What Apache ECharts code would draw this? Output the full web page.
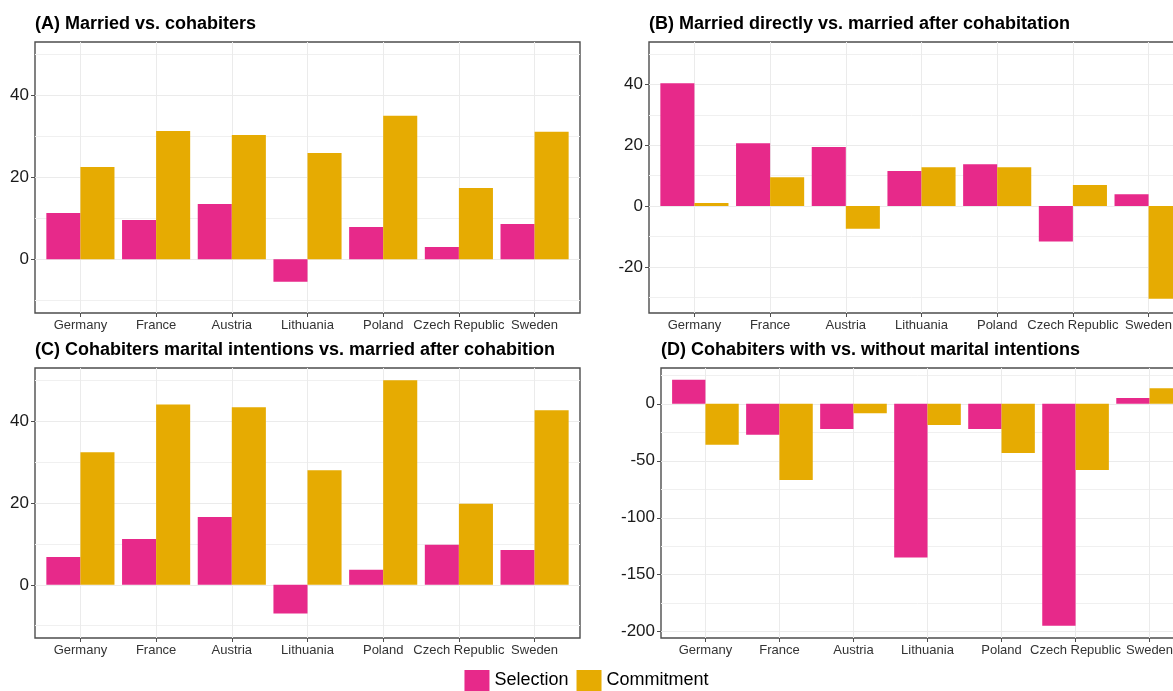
<!DOCTYPE html>
<html><head><meta charset="utf-8">
<script src="https://cdn.jsdelivr.net/npm/echarts@6/dist/echarts.min.js"></script>
<style>html,body{margin:0;padding:0;background:#fff}#c{width:1173px;height:691px}</style>
</head><body><div id="c"></div>
<script>
// ---- data ----
const countries = ['Germany', 'France', 'Austria', 'Lithuania', 'Poland', 'Czech Republic', 'Sweden'];
const seriesNames = ['Selection', 'Commitment'];
const panelTitles = [
  '(A) Married vs. cohabiters',
  '(B) Married directly vs. married after cohabitation',
  '(C) Cohabiters marital intentions vs. married after cohabition',
  '(D) Cohabiters with vs. without marital intentions'
];
const selectionA = [11.3, 9.6, 13.5, -5.5, 7.9, 3.0, 8.6];
const commitmentA = [22.5, 31.3, 30.3, 25.9, 35.0, 17.4, 31.1];
const selectionB = [40.4, 20.7, 19.4, 11.5, 13.8, -11.7, 3.9];
const commitmentB = [1.0, 9.5, -7.5, 12.8, 12.8, 6.9, -30.5];
const selectionC = [6.8, 11.2, 16.6, -7.0, 3.7, 9.8, 8.5];
const commitmentC = [32.4, 44.1, 43.4, 28.0, 50.0, 19.8, 42.7];
const selectionD = [21.0, -27.2, -22.2, -134.9, -22.2, -194.7, 5.0];
const commitmentD = [-35.9, -66.9, -8.2, -18.7, -43.2, -58.1, 13.7];
const yTicksA = [0, 20, 40];
const yMinorA = [-10, 10, 30, 50];
const yTicksB = [-20, 0, 20, 40];
const yMinorB = [-30, -10, 10, 30, 50];
const yTicksC = [0, 20, 40];
const yMinorC = [-10, 10, 30, 50];
const yTicksD = [-200, -150, -100, -50, 0];
const yMinorD = [-175, -125, -75, -25, 25];

// ---- layout / style ----
const FONT = 'Liberation Sans, Arial, sans-serif';
const colors = ['#E7298A', '#E6AB02'];
const panels = [
  {sel: selectionA, com: commitmentA, ticks: yTicksA, minor: yMinorA, min: -13.1, max: 53.0, left: 35, top: 42, width: 545, height: 271, tTop: 15},
  {sel: selectionB, com: commitmentB, ticks: yTicksB, minor: yMinorB, min: -35.2, max: 54.0, left: 649, top: 42, width: 545, height: 271, tTop: 15},
  {sel: selectionC, com: commitmentC, ticks: yTicksC, minor: yMinorC, min: -13.0, max: 53.0, left: 35, top: 368, width: 545, height: 270, tTop: 341},
  {sel: selectionD, com: commitmentD, ticks: yTicksD, minor: yMinorD, min: -205.5, max: 31.4, left: 661, top: 368, width: 533, height: 270, tTop: 341}
];
const catIdx = countries.map((c, i) => i);

const option = {
  backgroundColor: '#fff',
  animation: false,
  textStyle: {fontFamily: FONT},
  title: [], grid: [], xAxis: [], yAxis: [], series: [],
  legend: {
    data: seriesNames, left: 'center', top: 670, padding: 0,
    itemWidth: 25, itemHeight: 21, itemGap: 8, icon: 'rect',
    textStyle: {fontSize: 18, color: '#000', fontFamily: FONT}
  }
};

panels.forEach((p, k) => {
  option.title.push({
    text: panelTitles[k], left: p.left, top: p.tTop, padding: 0,
    textStyle: {fontSize: 18, fontWeight: 'bold', color: '#000', fontFamily: FONT}
  });
  option.grid.push({
    left: p.left, top: p.top, width: p.width, height: p.height,
    outerBoundsMode: 'none', containLabel: false,
    show: true, borderColor: '#4d4d4d', borderWidth: 1.4, backgroundColor: 'transparent'
  });
  option.xAxis.push({
    type: 'value', gridIndex: k, min: -0.6, max: 6.6,
    axisLine: {show: false, onZero: false},
    axisTick: {show: true, length: 4, customValues: catIdx, lineStyle: {color: '#4d4d4d', width: 1}},
    axisLabel: {customValues: catIdx, formatter: v => countries[Math.round(v)], fontSize: 13, color: '#333', margin: 6, fontFamily: FONT},
    splitLine: {show: true, lineStyle: {color: '#ebebeb', width: 1}}
  });
  option.yAxis.push({
    type: 'value', gridIndex: k, min: p.min, max: p.max,
    axisLine: {show: false, onZero: false},
    axisTick: {show: true, length: 4, customValues: p.ticks, lineStyle: {color: '#4d4d4d', width: 1}},
    axisLabel: {customValues: p.ticks, fontSize: 17, color: '#1a1a1a', margin: 6, fontFamily: FONT},
    splitLine: {show: true, lineStyle: {color: '#ebebeb', width: 1.2}}
  });
  option.yAxis.push({
    type: 'value', gridIndex: k, min: p.min, max: p.max, position: 'left',
    axisLine: {show: false, onZero: false},
    axisTick: {show: false, customValues: p.minor},
    axisLabel: {show: false, customValues: p.minor},
    splitLine: {show: true, lineStyle: {color: '#f0f0f0', width: 1}}
  });
  [p.sel, p.com].forEach((vals, s) => {
    option.series.push({
      type: 'bar', name: seriesNames[s], xAxisIndex: k, yAxisIndex: 2 * k,
      data: vals.map((v, i) => [i, v]),
      barWidth: '45%', barGap: '0%',
      itemStyle: {color: colors[s]}
    });
  });
});

const chart = echarts.init(document.getElementById('c'), null, {renderer: 'canvas'});
chart.setOption(option);
</script>
</body></html>
